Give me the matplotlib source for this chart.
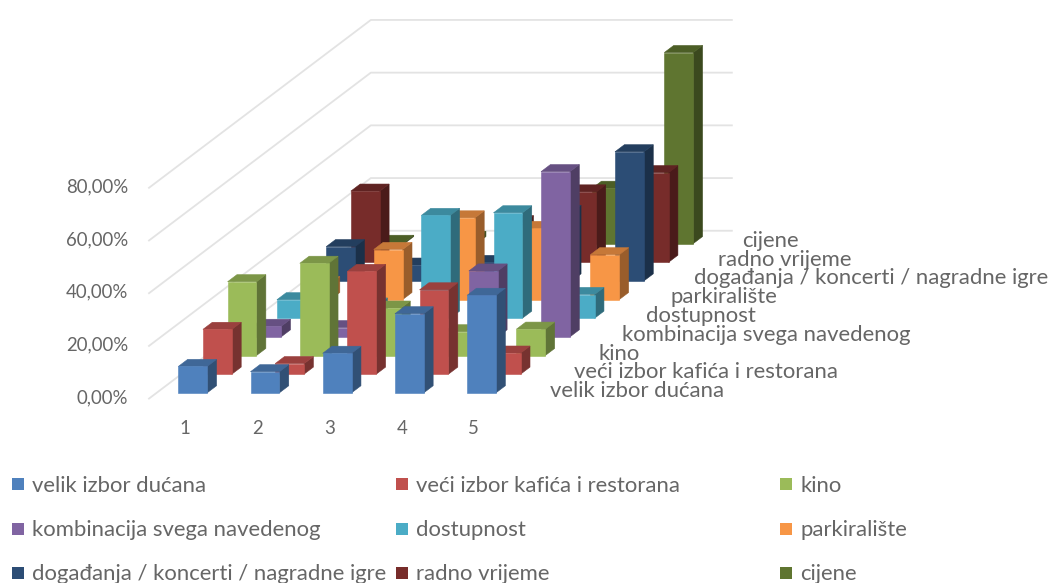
import matplotlib
matplotlib.use('Agg')
import matplotlib.pyplot as plt
from matplotlib.patches import Polygon, Rectangle

plt.rcParams['font.family'] = ['Lato', 'DejaVu Sans']

categories = ['1', '2', '3', '4', '5']
series_names = ['velik izbor dućana', 'veći izbor kafića i restorana', 'kino',
                'kombinacija svega navedenog', 'dostupnost', 'parkiralište',
                'događanja / koncerti / nagradne igre', 'radno vrijeme', 'cijene']
colors = ['#4F81BD', '#C0504D', '#9BBB59', '#8064A2', '#4BACC6', '#F79646',
          '#2C4D75', '#772C2A', '#5F7530']

# vrijednosti u postocima, ocitano sa slike
velik = [10, 8, 15, 30, 37]
veci = [17, 4, 39, 32, 8]
kino = [28, 35, 18, 9, 10]
kombinacija = [4, 3.5, 5, 25, 62.7]
dostupnost = [7, 5, 39, 40, 9]
parkiraliste = [6, 19, 31, 27, 17]
dogadanja = [13, 6, 7, 26, 49]
radno = [27, 10, 15, 26.7, 34]
cijene = [0.5, 2, 3, 21, 72.5]
values = [velik, veci, kino, kombinacija, dostupnost, parkiraliste, dogadanja, radno, cijene]

y_ticks = [0, 20, 40, 60, 80]
y_labels = ['0,00%', '20,00%', '40,00%', '60,00%', '80,00%']

# kosa projekcija u pikselima slike
X0, Y0 = 149, 398.6
CAT_W = 72.2
ROW_DX, ROW_DY = 24.65, 18.65
PX_PER_PCT = 2.635
BAR_W = 0.4
BAR_D = 0.38
n_rows = len(series_names)
n_cats = len(categories)


def proj(c, r, v=0):
    return (X0 + c * CAT_W + r * ROW_DX, Y0 - r * ROW_DY - v * PX_PER_PCT)


def shade(col, k):
    rgb = matplotlib.colors.to_rgb(col)
    return tuple(a * k for a in rgb)


fig = plt.figure(figsize=(10.57, 5.83), dpi=100)
ax = fig.add_axes([0, 0, 1, 1])
ax.set_xlim(0, 1057)
ax.set_ylim(583, 0)
ax.axis('off')

# mreza: bocni zid pa straznji zid
grid = '#E3E3E3'
for t in y_ticks:
    a = proj(0, 0, t)
    b = proj(0, n_rows, t)
    c = proj(n_cats, n_rows, t)
    ax.plot([a[0], b[0], c[0]], [a[1], b[1], c[1]], color=grid, lw=1.3, zorder=1)

# stupci, od zadnjeg reda prema prednjem
z = 2
for r in range(n_rows - 1, -1, -1):
    col = colors[r]
    for c in range(n_cats):
        v = values[r][c]
        c0 = c + (1 - BAR_W) / 2
        c1 = c0 + BAR_W
        r0 = r + (1 - BAR_D) / 2
        r1 = r0 + BAR_D
        front = [proj(c0, r0, 0), proj(c1, r0, 0), proj(c1, r0, v), proj(c0, r0, v)]
        side = [proj(c1, r0, 0), proj(c1, r1, 0), proj(c1, r1, v), proj(c1, r0, v)]
        top = [proj(c0, r0, v), proj(c1, r0, v), proj(c1, r1, v), proj(c0, r1, v)]
        ax.add_patch(Polygon(side, closed=True, fc=shade(col, 0.62), ec=shade(col, 0.62), lw=0.4, zorder=z))
        ax.add_patch(Polygon(top, closed=True, fc=shade(col, 0.8), ec=shade(col, 0.8), lw=0.4, zorder=z))
        ax.add_patch(Polygon(front, closed=True, fc=col, ec=col, lw=0.4, zorder=z))
        z += 1

text_col = '#666666'
fs_num = 13.4
fs = 15.9

for t, lab in zip(y_ticks, y_labels):
    ax.text(128, proj(0, 0, t)[1] - 1, lab, ha='right', va='center', fontsize=fs_num, color=text_col)

for c, lab in enumerate(categories):
    ax.text(proj(c + 0.5, 0)[0], 428, lab, ha='center', va='center', fontsize=fs_num, color=text_col)

# nazivi serija uz desni rub poda
for r, lab in enumerate(series_names):
    ax.text(550 + r * 24, 391 - r * 18.75, lab, ha='left', va='center', fontsize=fs, color=text_col)

# legenda
col_x = [12, 396, 780]
row_y = [484, 529, 573]
for i, lab in enumerate(series_names):
    lx = col_x[i % 3]
    ly = row_y[i // 3]
    ax.add_patch(Rectangle((lx, ly - 6), 12, 12, fc=colors[i], ec='none'))
    ax.text(lx + 20, ly + 1.5, lab, ha='left', va='center', fontsize=fs, color=text_col)

fig.savefig('out.png', dpi=100)
